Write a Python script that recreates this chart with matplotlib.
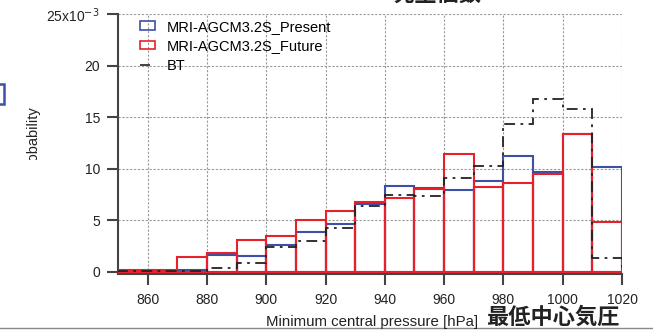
## Minimum central pressure histogram: Present / Future / BT
import matplotlib.pyplot as plt
import numpy as np
from matplotlib.patches import Rectangle
from matplotlib.lines import Line2D
from matplotlib.transforms import Bbox

plt.rcParams['font.family'] = ['Liberation Sans', 'Noto Sans CJK JP', 'DejaVu Sans']

# bin edges [hPa], values in units of 1e-3
edges = np.arange(850, 1021, 10)
present = [0.05, 0.05, 0.2, 1.6, 1.55, 2.65, 3.9, 4.65, 6.6, 8.35, 8.15, 7.9, 8.8, 11.25, 9.7, 13.4, 10.15]
future = [0.2, 0.15, 1.4, 1.85, 3.1, 3.5, 5.05, 5.9, 6.75, 7.2, 8.0, 11.4, 8.2, 8.6, 9.45, 13.4, 4.8]
bt = [0.05, 0.05, 0.05, 0.4, 0.9, 2.45, 3.0, 4.25, 6.4, 7.45, 7.35, 9.15, 10.25, 14.3, 16.75, 15.8, 1.35]

yticks = [0, 5, 10, 15, 20, 25]
ytick_labels = ['0', '5', '10', '15', '20', '25x10$^{-3}$']
xticks = np.arange(860, 1021, 20)

blue = '#3d4fa6'
red = '#e8202a'
dark = '#444444'
txt = '#222222'
bt_dash = (0, (6, 3, 1.5, 3))

fig = plt.figure(figsize=(6.53, 3.30), dpi=100)
ax = fig.add_axes([118/653, 1-274/330, (622-118)/653, (274-14)/330])

lefts = edges[:-1]
ax.bar(lefts, present, width=10, align='edge', fill=False, edgecolor=blue, linewidth=1.5, zorder=3)
ax.bar(lefts, future, width=10, align='edge', fill=False, edgecolor=red, linewidth=1.5, zorder=4)
ax.stairs(bt, edges, color=txt, linestyle=bt_dash, linewidth=1.3, baseline=0, zorder=5)

ax.set_xlim(850, 1020)
ax.set_ylim(-0.2, 25)
ax.set_yticks(yticks)
ax.set_yticklabels(ytick_labels)
ax.set_xticks(xticks)
ax.tick_params(axis='both', direction='out', length=8, width=1.5, color=dark,
               labelsize=10, labelcolor=txt)
ax.tick_params(axis='x', pad=5.5)
ax.tick_params(axis='y', pad=5)
ax.grid(True, color='#999999', linestyle=(0, (2, 1.5)), linewidth=0.8, zorder=0)
ax.set_axisbelow(True)
for s in ['top', 'right']:
    ax.spines[s].set_visible(False)
for s in ['left', 'bottom']:
    ax.spines[s].set_color(dark)
    ax.spines[s].set_linewidth(1.5)

handles = [Rectangle((0, 0), 1, 1, fill=False, edgecolor=blue, linewidth=1.2),
           Rectangle((0, 0), 1, 1, fill=False, edgecolor=red, linewidth=1.2),
           Line2D([], [], color=txt, linestyle=bt_dash, linewidth=1.2)]
ax.legend(handles, ['MRI-AGCM3.2S_Present', 'MRI-AGCM3.2S_Future', 'BT'],
          loc='upper left', bbox_to_anchor=(0.0437, 0.978), frameon=False, fontsize=10.5,
          borderpad=0, borderaxespad=0, handlelength=1.0, handleheight=0.55,
          labelspacing=0.38, handletextpad=0.8)

# labels
fig.text(372/653, 1-322/330, 'Minimum central pressure [hPa]', ha='center', va='center',
         fontsize=10.8, color=txt)
fig.text(553/653, 1-317/330, '最低中心気圧', ha='center', va='center', fontsize=16,
         fontweight='bold', family=['Noto Sans CJK JP'], color=txt)
fig.text(437/653, 1-1/330, '発生個数', ha='center', va='baseline', fontsize=16,
         fontweight='bold', family=['Noto Sans CJK JP'], color=txt)
ylab = fig.text(33/653, 1-140/330, 'Probability', ha='center', va='center', rotation=90,
                fontsize=10.5, color=txt)
ylab.set_clip_box(Bbox.from_extents(0, 330-160, 653, 330))
ylab.set_clip_on(True)

# fragments at the edges of the crop
fig.patches.append(Rectangle((-6/653, 1-104/330), 10/653, 20/330, fill=False,
                             edgecolor=blue, linewidth=1.8, transform=fig.transFigure))
fig.lines.append(Line2D([0, 1], [1-328/330, 1-328/330], color='#888888', linewidth=1,
                        transform=fig.transFigure))

fig.savefig('out.png', dpi=100)
